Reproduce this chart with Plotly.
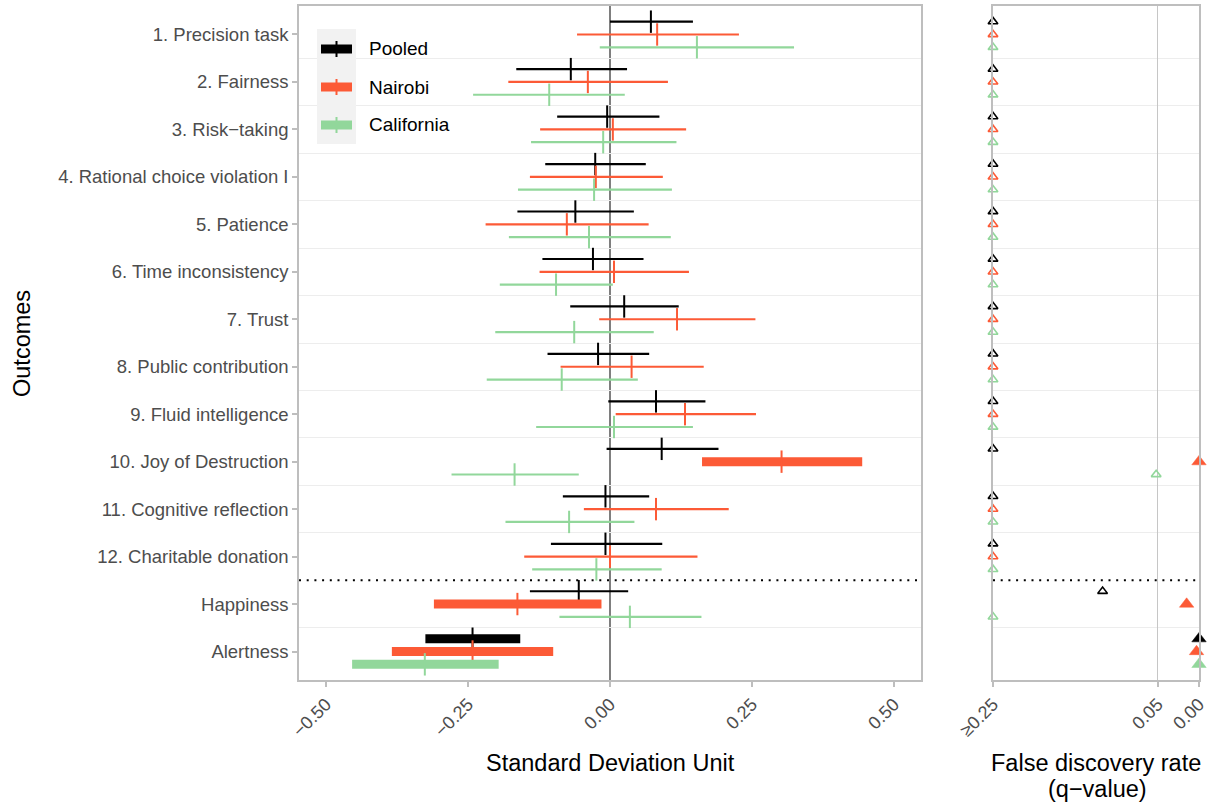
import plotly.graph_objects as go

# ---------------- data ----------------
outcomes = ["1. Precision task", "2. Fairness", "3. Risk\u2212taking",
            "4. Rational choice violation I", "5. Patience", "6. Time inconsistency",
            "7. Trust", "8. Public contribution", "9. Fluid intelligence",
            "10. Joy of Destruction", "11. Cognitive reflection",
            "12. Charitable donation", "Happiness", "Alertness"]

groups = ["Pooled", "Nairobi", "California"]
colors = {"Pooled": "#000000", "Nairobi": "#FC5A36", "California": "#92D79B"}

pooled_est = [0.072, -0.069, -0.005, -0.026, -0.061, -0.030, 0.025, -0.021, 0.081, 0.091, -0.008, -0.008, -0.055, -0.242]
pooled_lo  = [0.000, -0.165, -0.093, -0.114, -0.163, -0.119, -0.070, -0.110, -0.003, -0.006, -0.083, -0.104, -0.141, -0.325]
pooled_hi  = [0.146, 0.030, 0.087, 0.063, 0.042, 0.059, 0.121, 0.069, 0.168, 0.191, 0.069, 0.092, 0.032, -0.158]

nairobi_est = [0.083, -0.039, 0.005, -0.025, -0.076, 0.007, 0.118, 0.038, 0.132, 0.302, 0.081, 0.000, -0.163, -0.242]
nairobi_lo  = [-0.058, -0.179, -0.123, -0.141, -0.219, -0.124, -0.019, -0.087, 0.010, 0.162, -0.046, -0.151, -0.310, -0.384]
nairobi_hi  = [0.227, 0.102, 0.134, 0.093, 0.068, 0.139, 0.256, 0.165, 0.257, 0.444, 0.209, 0.154, -0.015, -0.100]

california_est = [0.153, -0.107, -0.012, -0.028, -0.037, -0.095, -0.063, -0.085, 0.007, -0.168, -0.072, -0.024, 0.035, -0.326]
california_lo  = [-0.018, -0.241, -0.139, -0.162, -0.178, -0.194, -0.202, -0.217, -0.130, -0.279, -0.184, -0.137, -0.089, -0.454]
california_hi  = [0.324, 0.026, 0.117, 0.109, 0.107, 0.005, 0.077, 0.049, 0.146, -0.055, 0.043, 0.091, 0.161, -0.196]

# q-values (values >= 0.25 shown at the 0.25 cap)
pooled_q     = [0.25, 0.25, 0.25, 0.25, 0.25, 0.25, 0.25, 0.25, 0.25, 0.25, 0.25, 0.25, 0.117, 0.000]
nairobi_q    = [0.25, 0.25, 0.25, 0.25, 0.25, 0.25, 0.25, 0.25, 0.25, 0.000, 0.25, 0.25, 0.015, 0.003]
california_q = [0.25, 0.25, 0.25, 0.25, 0.25, 0.25, 0.25, 0.25, 0.25, 0.052, 0.25, 0.25, 0.25, 0.000]

x_ticks = [-0.5, -0.25, 0.0, 0.25, 0.5]
x_ticktext = ["\u22120.50", "\u22120.25", "0.00", "0.25", "0.50"]
q_ticks = [0.25, 0.05, 0.0]
q_ticktext = ["\u22650.25", "0.05", "0.00"]

series = {
    "Pooled": (pooled_est, pooled_lo, pooled_hi, pooled_q),
    "Nairobi": (nairobi_est, nairobi_lo, nairobi_hi, nairobi_q),
    "California": (california_est, california_lo, california_hi, california_q),
}
offsets = {"Pooled": -0.27, "Nairobi": 0.0, "California": 0.27}

# ---------------- figure ----------------
W, H = 1214, 804
FONT = "Liberation Sans, Arial, Helvetica, sans-serif"
GRAY_TXT = "#4d4d4d"
BORDER = "#bebebe"
XRANGE = [-0.5475, 0.5475]
QRANGE = [0.25, 0.0]

def px(xp):
    return xp / W

def py(yp):
    return 1 - yp / H

fig = go.Figure()
n = len(outcomes)
row_pos = list(range(1, n + 1))

for g in groups:
    est, lo, hi, q = series[g]
    c = colors[g]
    ys = [r + offsets[g] for r in row_pos]
    thin_x, thin_y, thick_x, thick_y = [], [], [], []
    for i in range(n):
        if q[i] < 0.05:
            thick_x += [lo[i], hi[i], None]
            thick_y += [ys[i], ys[i], None]
        else:
            thin_x += [lo[i], hi[i], None]
            thin_y += [ys[i], ys[i], None]
    fig.add_trace(go.Scatter(x=thin_x, y=thin_y, mode="lines", line=dict(color=c, width=2.2),
                             xaxis="x", yaxis="y", showlegend=False, hoverinfo="skip"))
    if thick_x:
        fig.add_trace(go.Scatter(x=thick_x, y=thick_y, mode="lines", line=dict(color=c, width=9),
                                 xaxis="x", yaxis="y", showlegend=False, hoverinfo="skip"))
    fig.add_trace(go.Scatter(x=est, y=ys, mode="markers",
                             marker=dict(symbol="line-ns", size=16, color=c, line=dict(color=c, width=2)),
                             xaxis="x", yaxis="y", showlegend=False, name=g))

    # q-value panel
    open_x = [min(v, 0.25) for v in q if v >= 0.05]
    open_y = [ys[i] for i in range(n) if q[i] >= 0.05]
    fill_x = [min(v, 0.25) for v in q if v < 0.05]
    fill_y = [ys[i] for i in range(n) if q[i] < 0.05]
    fig.add_trace(go.Scatter(x=open_x, y=open_y, mode="markers", cliponaxis=False,
                             marker=dict(symbol="triangle-up-open", size=8.5, color=c,
                                         line=dict(color=c, width=1.6)),
                             xaxis="x2", yaxis="y2", showlegend=False, name=g))
    fig.add_trace(go.Scatter(x=fill_x, y=fill_y, mode="markers", cliponaxis=False,
                             marker=dict(symbol="triangle-up", size=12.5, color=c,
                                         line=dict(color=c, width=0.5)),
                             xaxis="x2", yaxis="y2", showlegend=False, name=g))

ydom = [py(680), py(6)]
yrange = [n + 0.6, 0.4]
minor_vals = [r + 0.5 for r in row_pos[:-1] if r + 0.5 != 12.5]

axis_common = dict(showline=True, mirror=True, linecolor=BORDER, linewidth=1.6,
                   zeroline=False, automargin=False)

fig.update_layout(
    width=W, height=H, margin=dict(l=0, r=0, t=0, b=0, autoexpand=False),
    plot_bgcolor="white", paper_bgcolor="white",
    font=dict(family=FONT),
    showlegend=False,
    xaxis=dict(domain=[px(299), px(921)], range=XRANGE, anchor="y",
               tickmode="array", tickvals=x_ticks, ticktext=x_ticktext, tickangle=-45,
               ticks="outside", ticklen=5, tickwidth=1.5, tickcolor=BORDER,
               tickfont=dict(size=18, color=GRAY_TXT, family=FONT), showgrid=False,
               **axis_common),
    yaxis=dict(domain=ydom, range=yrange, anchor="x",
               tickmode="array", tickvals=row_pos, ticktext=outcomes,
               ticks="outside", ticklen=5, tickwidth=1.5, tickcolor=BORDER,
               tickfont=dict(size=18.5, color=GRAY_TXT, family=FONT), showgrid=False,
               minor=dict(tickmode="array", tickvals=minor_vals, showgrid=True,
                          gridcolor="#ededed", gridwidth=1.2, ticks=""),
               **axis_common),
    xaxis2=dict(domain=[px(993), px(1199)], range=QRANGE, anchor="y2",
                tickmode="array", tickvals=q_ticks, ticktext=q_ticktext, tickangle=-45,
                ticks="outside", ticklen=5, tickwidth=1.5, tickcolor=BORDER,
                tickfont=dict(size=18, color=GRAY_TXT, family=FONT),
                showgrid=True, gridcolor="#c6c6c6", gridwidth=1.2,
                **axis_common),
    yaxis2=dict(domain=ydom, range=yrange, anchor="x2",
                tickmode="array", tickvals=row_pos, showticklabels=False, ticks="",
                showgrid=False,
                minor=dict(tickmode="array", tickvals=minor_vals, showgrid=True,
                           gridcolor="#ededed", gridwidth=1.2, ticks=""),
                **axis_common),
)

shapes = []
# zero reference line
shapes.append(dict(type="line", xref="x", yref="y", x0=0, x1=0, y0=yrange[0], y1=yrange[1],
                   line=dict(color="#3a3a3a", width=1.3), layer="below"))
# dotted separator between the 12 outcomes and the two extra measures
shapes.append(dict(type="line", xref="x", yref="y", x0=XRANGE[0], x1=XRANGE[1], y0=12.5, y1=12.5,
                   line=dict(color="#000000", width=2, dash="2px,5.7px"), layer="below"))
shapes.append(dict(type="line", xref="x2", yref="y2", x0=QRANGE[0], x1=QRANGE[1], y0=12.5, y1=12.5,
                   line=dict(color="#000000", width=2, dash="2px,5.7px"), layer="below"))

# custom legend (key boxes + glyphs)
shapes.append(dict(type="rect", xref="paper", yref="paper", x0=px(317), x1=px(356),
                   y0=py(144), y1=py(29), fillcolor="#f2f2f2", line=dict(width=0), layer="above"))
annotations = []
for k, g in enumerate(groups):
    yc = 49 + 38 * k
    c = colors[g]
    shapes.append(dict(type="rect", xref="paper", yref="paper", x0=px(321), x1=px(352),
                       y0=py(yc + 4.5), y1=py(yc - 4.5), fillcolor=c, line=dict(width=0),
                       layer="above"))
    shapes.append(dict(type="line", xref="paper", yref="paper", x0=px(336.5), x1=px(336.5),
                       y0=py(yc + 8), y1=py(yc - 8), line=dict(color=c, width=2), layer="above"))
    annotations.append(dict(text=g, xref="paper", yref="paper", x=px(367), y=py(yc),
                            xanchor="left", yanchor="middle", showarrow=False,
                            font=dict(size=19, color="#000000", family=FONT)))

# axis titles
annotations += [
    dict(text="Outcomes", xref="paper", yref="paper", x=px(22), y=py(344), textangle=-90,
         xanchor="center", yanchor="middle", showarrow=False,
         font=dict(size=23.5, color="#000000", family=FONT)),
    dict(text="Standard Deviation Unit", xref="paper", yref="paper", x=px(610), y=py(763),
         xanchor="center", yanchor="middle", showarrow=False,
         font=dict(size=23.5, color="#000000", family=FONT)),
    dict(text="False discovery rate", xref="paper", yref="paper", x=px(1096), y=py(763),
         xanchor="center", yanchor="middle", showarrow=False,
         font=dict(size=23.5, color="#000000", family=FONT)),
    dict(text="(q\u2212value)", xref="paper", yref="paper", x=px(1097), y=py(789),
         xanchor="center", yanchor="middle", showarrow=False,
         font=dict(size=23.5, color="#000000", family=FONT)),
]

fig.update_layout(shapes=shapes, annotations=annotations)
fig.write_html("out.html")
